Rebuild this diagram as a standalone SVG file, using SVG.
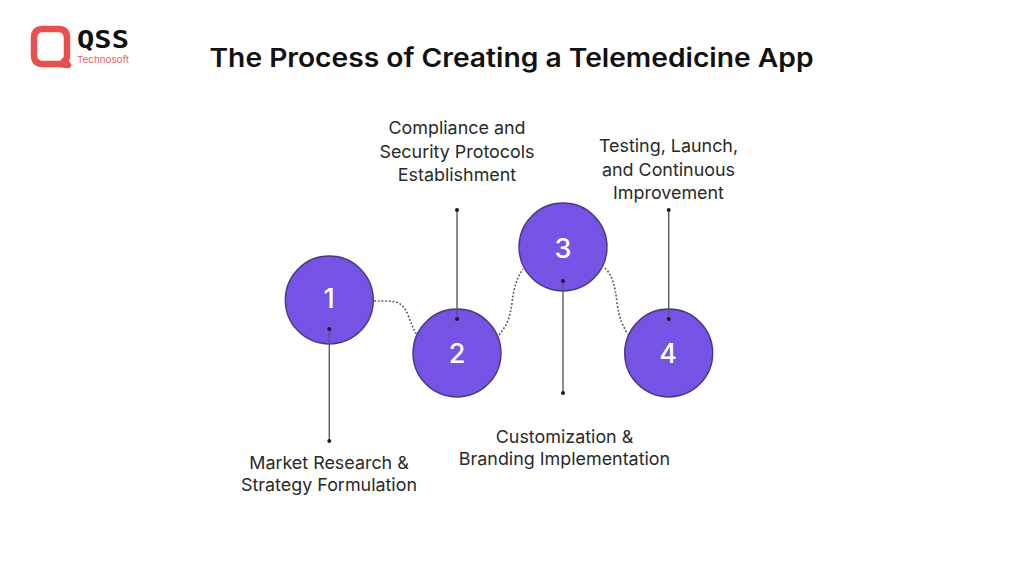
<svg xmlns="http://www.w3.org/2000/svg" width="1024" height="576" viewBox="0 0 1024 576">
<style>
text{font-family:"Inter","Liberation Sans",sans-serif;text-anchor:middle;fill:#2a2a2a}
.title{font-size:26px;font-weight:600;fill:#111}
.label{font-size:17.900px;font-weight:400}
.num{font-size:27px;font-weight:500;fill:#fff}
.disc{fill:#7553e4;stroke:#4a3b80;stroke-width:1.4}
.dash{fill:none;stroke:#555;stroke-width:1.6;stroke-dasharray:1.8 1.9}
.lead{stroke:#5a5a66;stroke-width:1.4;fill:none}
.dot{fill:#1a1a2a}
</style>
<rect width="1024" height="576" fill="#fff"/>
<g id="logo">
<path d="M43 29H58Q67 29 67 38V55Q67 60 64 61L68 65L59 64H43Q34 64 34 55V38Q34 29 43 29Z" fill="none" stroke="#e8504f" stroke-width="6.5" stroke-linejoin="round"/>
<text x="103" y="48" style="font-family:'DejaVu Sans Mono','Liberation Mono',monospace;font-size:24px;font-weight:700;fill:#111" textLength="52" lengthAdjust="spacingAndGlyphs">QSS</text>
<text x="103" y="63" style="font-size:9.5px;fill:#e8606a" textLength="52" lengthAdjust="spacingAndGlyphs">Technosoft</text>
</g>
<text id="title" class="title" x="511.500" y="67" textLength="604" lengthAdjust="spacingAndGlyphs">The Process of Creating a Telemedicine App</text>
<g id="node1"><circle class="disc" cx="329.300" cy="300" r="44"/><text class="num" x="329" y="308">1</text><text class="label" x="329" y="469">Market Research &amp;</text><text class="label" x="329" y="491">Strategy Formulation</text></g>
<g id="node2"><circle class="disc" cx="457" cy="353" r="44"/><text class="num" x="457" y="363">2</text><text class="label" x="457" y="134">Compliance and</text><text class="label" x="457" y="158">Security Protocols</text><text class="label" x="457" y="181">Establishment</text></g>
<g id="node3"><circle class="disc" cx="563" cy="247" r="44"/><text class="num" x="563" y="258">3</text><text class="label" x="564.500" y="443">Customization &amp;</text><text class="label" x="564.500" y="465">Branding Implementation</text></g>
<g id="node4"><circle class="disc" cx="668.700" cy="353" r="44"/><text class="num" x="668" y="363">4</text><text class="label" x="668.500" y="152">Testing, Launch,</text><text class="label" x="668.500" y="176">and Continuous</text><text class="label" x="668.500" y="199">Improvement</text></g>
<g id="connectors">
<path class="dash" d="M374 301C395 301 402 300 408 315C411 323 413 329 417 335"/>
<path class="dash" d="M499 335C507 325 510 318 512 303C514 286 517 278 523 269"/>
<path class="dash" d="M605 268C612 275 615 285 617 303C619 318 623 327 628 334"/>
<path class="lead" d="M329.300 329V441"/>
<path class="lead" d="M457 210V319"/>
<path class="lead" d="M563 281V393"/>
<path class="lead" d="M668.700 210V319"/>
<circle class="dot" cx="329.300" cy="329" r="2"/><circle class="dot" cx="329.300" cy="441" r="2"/>
<circle class="dot" cx="457" cy="319" r="2"/><circle class="dot" cx="457" cy="210" r="2"/>
<circle class="dot" cx="563" cy="281" r="2"/><circle class="dot" cx="563" cy="393" r="2"/>
<circle class="dot" cx="668.700" cy="319" r="2"/><circle class="dot" cx="668.700" cy="210" r="2"/>
</g>
</svg>
